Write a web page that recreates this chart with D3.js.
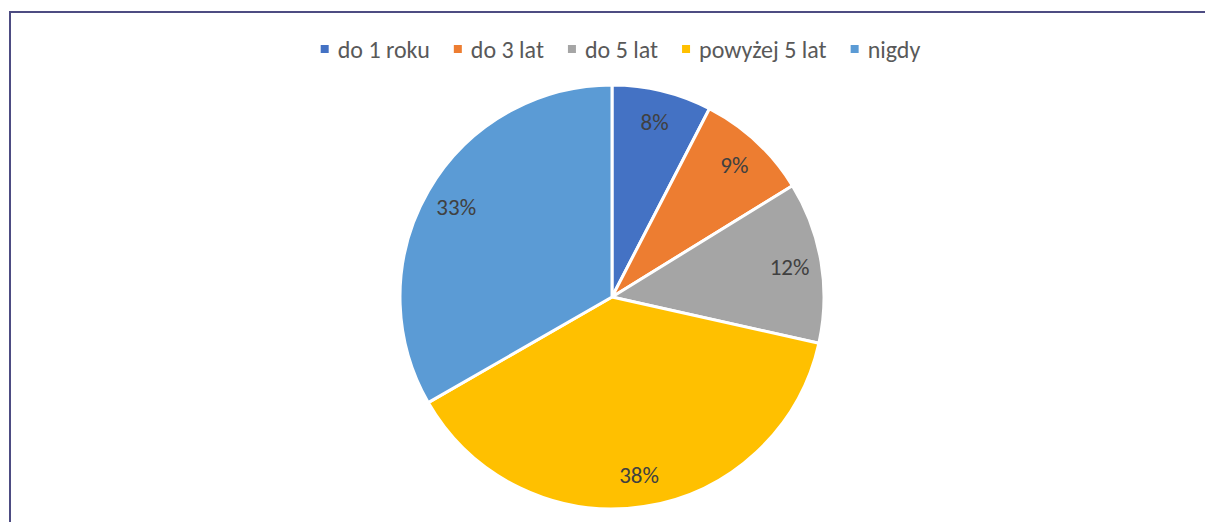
<!DOCTYPE html>
<html>
<head>
<meta charset="utf-8">
<script src="https://cdn.jsdelivr.net/npm/d3@7"></script>
<style>
  html, body { margin: 0; padding: 0; background: #fff; overflow: hidden; }
  svg { display: block; }
</style>
</head>
<body>
<div id="vis"></div>
<script>
const CATEGORIES = ["do 1 roku", "do 3 lat", "do 5 lat", "powyżej 5 lat", "nigdy"];
const SHARES = [7.6, 8.6, 12.3, 38.2, 33.3];
const COLORS = ["#4472C4", "#ED7D31", "#A5A5A5", "#FFC000", "#5B9BD5"];

const WIDTH = 1205;
const HEIGHT = 522;
const CX = 612;
const CY = 297;
const RADIUS = 212;
const LABEL_RADIUS = 180;
const FONT = "Carlito, Calibri, Lato, sans-serif";

const data = CATEGORIES.map((c, i) => ({ name: c, value: SHARES[i], color: COLORS[i] }));
const total = d3.sum(SHARES);

const svg = d3.select("#vis")
  .append("svg")
    .attr("width", WIDTH)
    .attr("height", HEIGHT);

// outer chart border (right and bottom edges fall outside the picture)
svg.append("rect")
  .attr("x", 10)
  .attr("y", 12)
  .attr("width", 1400)
  .attr("height", 700)
  .attr("fill", "none")
  .attr("stroke", "#4d4c82")
  .attr("stroke-width", 2);

const pie = d3.pie().value(d => d.value).sort(null);
const arc = d3.arc().innerRadius(0).outerRadius(RADIUS);
const labelArc = d3.arc().innerRadius(LABEL_RADIUS).outerRadius(LABEL_RADIUS);

const g = svg.append("g").attr("transform", `translate(${CX},${CY})`);

g.selectAll("path")
  .data(pie(data))
  .enter()
  .append("path")
    .attr("d", arc)
    .attr("fill", d => d.data.color)
    .attr("stroke", "#fff")
    .attr("stroke-width", 3)
    .attr("stroke-linejoin", "round");

const pct = d3.format(".0%");

g.selectAll("text.lbl")
  .data(pie(data))
  .enter()
  .append("text")
    .attr("class", "lbl")
    .attr("transform", d => `translate(${labelArc.centroid(d)})`)
    .attr("text-anchor", "middle")
    .attr("dominant-baseline", "central")
    .attr("font-family", FONT)
    .attr("font-size", 23)
    .attr("fill", "#404040")
    .text(d => pct(d.data.value / total));

// legend, centred above the pie
const SQ = 8, SQ_GAP = 9, ITEM_GAP = 24, LEGEND_Y = 49;
const legend = svg.append("g");
const items = legend.selectAll("g")
  .data(data)
  .enter()
  .append("g");

items.append("rect")
  .attr("width", SQ)
  .attr("height", SQ)
  .attr("y", LEGEND_Y - SQ / 2)
  .attr("fill", d => d.color);

items.append("text")
  .attr("x", SQ + SQ_GAP)
  .attr("y", LEGEND_Y)
  .attr("dominant-baseline", "central")
  .attr("font-family", FONT)
  .attr("font-size", 24)
  .attr("fill", "#595959")
  .text(d => d.name);

let x = 0;
items.each(function() {
  const w = this.querySelector("text").getComputedTextLength();
  d3.select(this).attr("transform", `translate(${x},0)`);
  x += SQ + SQ_GAP + w + ITEM_GAP;
});
const legendWidth = x - ITEM_GAP;
legend.attr("transform", `translate(${(312 + 929) / 2 - legendWidth / 2},0)`);
</script>
</body>
</html>
